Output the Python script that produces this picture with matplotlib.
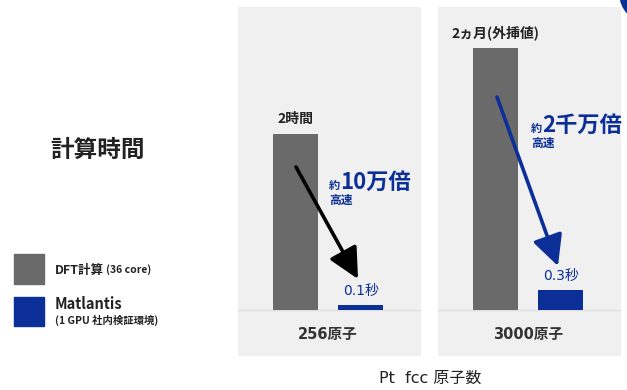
import matplotlib
matplotlib.use("Agg")
import matplotlib.pyplot as plt
from matplotlib.patches import Rectangle, Ellipse

plt.rcParams['font.family'] = ['Noto Sans CJK JP', 'DejaVu Sans']
LATIN = ['DejaVu Sans', 'Noto Sans CJK JP']

# data (bar heights as drawn on the slide, not to scale)
categories = ['256原子', '3000原子']
dft_height = [176, 262]
mat_height = [5, 20]
dft_label = ['2時間', '2ヵ月(外挿値)']
mat_label = ['0.1秒', '0.3秒']
speedup = ['10万倍', '2千万倍']
arrow_color = ['black', '#0b2f96']

GRAY = '#6a6a6a'
BLUE = '#0b2f96'
PANEL = '#f0f0f0'
W, H = 627, 390

fig = plt.figure(figsize=(W / 100, H / 100), dpi=100)
fig.patch.set_facecolor('white')

panel_left = [238, 438]
for i, cat in enumerate(categories):
    ax = fig.add_axes([panel_left[i] / W, (H - 356) / H, 183 / W, (356 - 7) / H])
    ax.set_facecolor(PANEL)
    ax.set_xlim(-0.88, 1.92)
    ax.set_ylim(-46, 303)
    ax.bar([0], [dft_height[i]], width=0.69, color=GRAY, zorder=2)
    ax.bar([1], [mat_height[i]], width=0.69, color=BLUE, zorder=2)
    ax.axhline(0, color='#dedede', lw=1, zorder=1)
    ax.text(0, dft_height[i] + 8, dft_label[i], ha='center', va='bottom',
            fontsize=10, fontweight='bold', color='#222222')
    ax.text(1, mat_height[i] + 7, mat_label[i], ha='center', va='bottom',
            fontsize=10, color=BLUE, family=LATIN)
    ax.text(0.5, -24, cat, ha='center', va='center', fontsize=10.5,
            fontweight='bold', color='#333333', family=LATIN)
    for s in ax.spines.values():
        s.set_visible(False)
    ax.set_xticks([])
    ax.set_yticks([])

# arrows (figure pixel coords)
arrows = [((296, 167), (358, 279)), ((497, 97), (558, 266))]
for (p0, p1), c in zip(arrows, arrow_color):
    plt.annotate('', xy=(p1[0], H - p1[1]), xytext=(p0[0], H - p0[1]),
                 xycoords='figure pixels', textcoords='figure pixels',
                 arrowprops=dict(arrowstyle='-|>,head_length=1.1,head_width=0.55',
                                 lw=2.6, color=c, mutation_scale=17,
                                 shrinkA=0, shrinkB=0))

# speed-up annotations
for (x0, yb), s in zip([(329, 189), (531, 132)], speedup):
    fig.text(x0 / W, (H - yb) / H, '約', fontsize=8, fontweight='bold',
             color=BLUE, va='baseline')
    fig.text((x0 + 11) / W, (H - yb) / H, s, fontsize=16, fontweight='bold',
             color=BLUE, va='baseline')
    fig.text(x0 / W, (H - yb - 15) / H, '高速', fontsize=8.5, fontweight='bold',
             color=BLUE, va='baseline')

# left side title and legend
fig.text(50 / W, (H - 150) / H, '計算時間', fontsize=17, fontweight='bold',
         color='#222222', va='center')
fig.patches.append(Rectangle((14 / W, (H - 284) / H), 30 / W, 30 / H,
                             transform=fig.transFigure, color=GRAY, figure=fig))
fig.patches.append(Rectangle((14 / W, (H - 326) / H), 30 / W, 29 / H,
                             transform=fig.transFigure, color=BLUE, figure=fig))
fig.text(55 / W, (H - 270) / H, 'DFT計算', fontsize=9, fontweight='bold',
         color='#222222', va='center')
fig.text(106 / W, (H - 270) / H, '(36 core)', fontsize=7.5, fontweight='bold',
         color='#222222', va='center')
fig.text(55 / W, (H - 304) / H, 'Matlantis', fontsize=10.5, fontweight='bold',
         color='#222222', va='center')
fig.text(55 / W, (H - 320) / H, '(1 GPU 社内検証環境)', fontsize=7.5,
         fontweight='bold', color='#222222', va='center')

fig.text(430 / W, (H - 378) / H, 'Pt  fcc 原子数', fontsize=11.5,
         color='#222222', ha='center', va='center', family=LATIN)

# corner decoration
fig.patches.append(Ellipse((648 / W, (H + 6) / H), 56 / W, 56 / H,
                           transform=fig.transFigure, color=BLUE, figure=fig))

fig.savefig('out.png', dpi=100)
